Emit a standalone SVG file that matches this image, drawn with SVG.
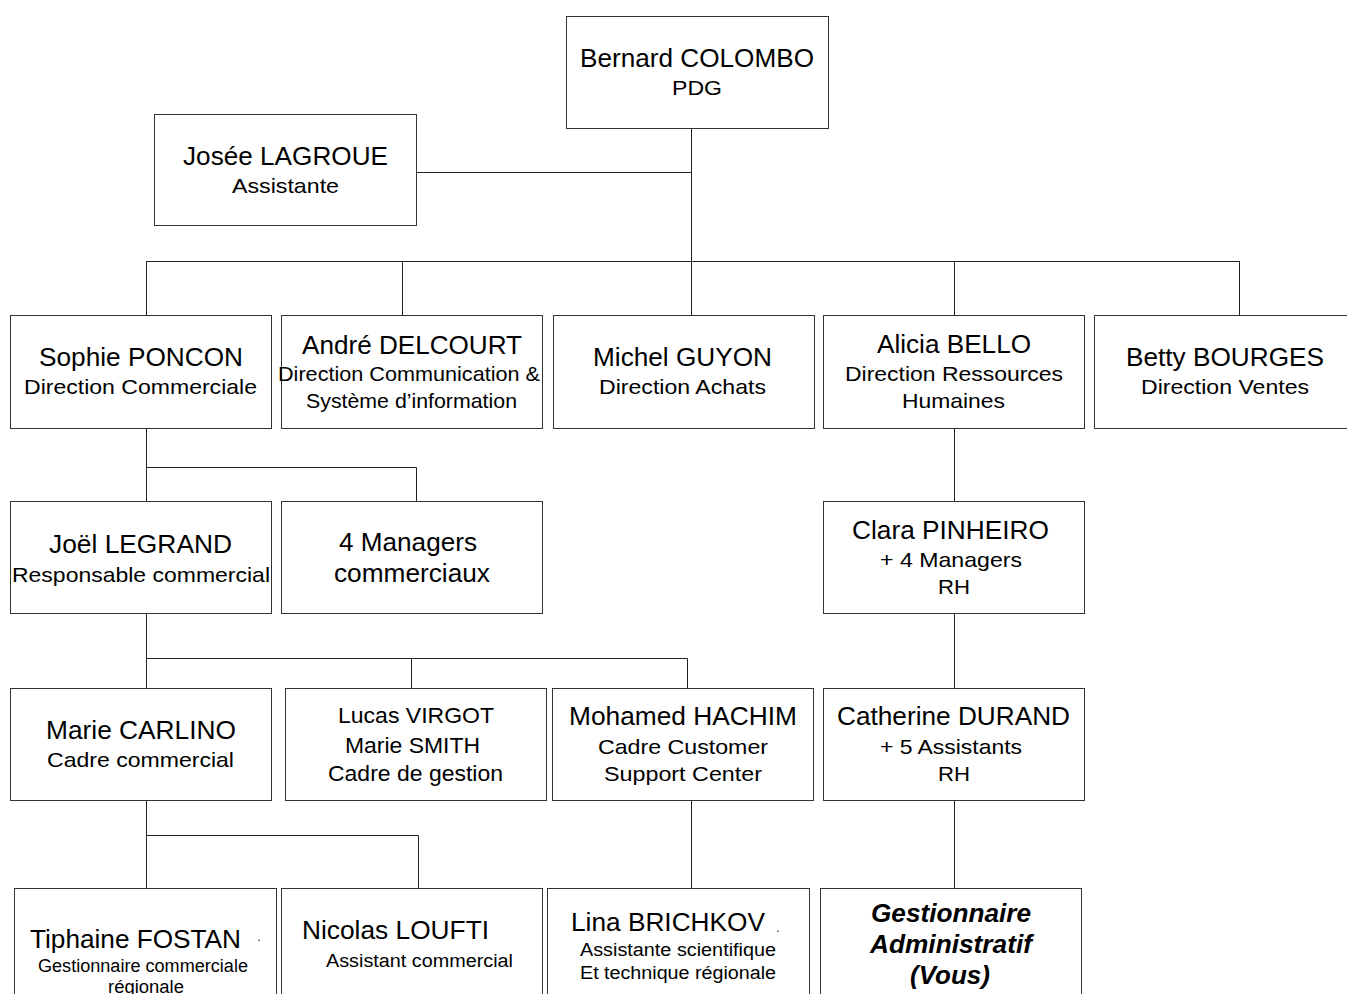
<svg xmlns="http://www.w3.org/2000/svg" width="1347" height="994" viewBox="0 0 1347 994">
<style>
.box{fill:#fff;stroke:#333;stroke-width:1}
.ln{fill:none;stroke:#222;stroke-width:1}
text{font-family:"Liberation Sans",Arial,sans-serif;fill:#000;text-anchor:middle}
.n{font-size:25px}
.t{font-size:21px}
.s{font-size:18px}
.bi{font-size:25px;font-weight:bold;font-style:italic}
</style>
<rect width="1347" height="994" fill="#fff"/>
<g id="connectors">
<path class="ln" d="M416.5 172.5H691.5M691.5 128V261.5M146.5 261.5H1239.5M146.5 261V315M402.5 261V315M691.5 261V315M954.5 261V315M1239.5 261V315"/>
<path class="ln" d="M146.5 428V501M146.5 467.5H416.5V501"/>
<path class="ln" d="M954.5 428V501M954.5 613V688"/>
<path class="ln" d="M146.5 613V688M146.5 658.5H687.5V688M411.5 658V688"/>
<path class="ln" d="M146.5 800V888M146.5 835.5H418.5V888M691.5 800V888M954.5 800V888"/>
</g>
<g id="n_colombo"><rect class="box" x="566.5" y="16.5" width="262" height="112"/><text class="n" x="697" y="67" textLength="234" lengthAdjust="spacingAndGlyphs">Bernard COLOMBO</text><text class="t" x="697" y="95" textLength="50" lengthAdjust="spacingAndGlyphs">PDG</text></g>
<g id="n_lagroue"><rect class="box" x="154.5" y="114.5" width="262" height="111"/><text class="n" x="285.5" y="165" textLength="205" lengthAdjust="spacingAndGlyphs">Josée LAGROUE</text><text class="t" x="285.5" y="193" textLength="107" lengthAdjust="spacingAndGlyphs">Assistante</text></g>
<g id="n_poncon"><rect class="box" x="10.5" y="315.5" width="261" height="113"/><text class="n" x="141" y="366" textLength="204" lengthAdjust="spacingAndGlyphs">Sophie PONCON</text><text class="t" x="140.5" y="394" textLength="233" lengthAdjust="spacingAndGlyphs">Direction Commerciale</text></g>
<g id="n_delcourt"><rect class="box" x="281.5" y="315.5" width="261" height="113"/><text class="n" x="412" y="354" textLength="220" lengthAdjust="spacingAndGlyphs">André DELCOURT</text><text class="t" x="409" y="381" textLength="262" lengthAdjust="spacingAndGlyphs">Direction Communication &amp;</text><text class="t" x="411.5" y="408" textLength="211" lengthAdjust="spacingAndGlyphs">Système d’information</text></g>
<g id="n_guyon"><rect class="box" x="553.5" y="315.5" width="261" height="113"/><text class="n" x="682.5" y="366" textLength="179" lengthAdjust="spacingAndGlyphs">Michel GUYON</text><text class="t" x="682.5" y="394" textLength="167" lengthAdjust="spacingAndGlyphs">Direction Achats</text></g>
<g id="n_bello"><rect class="box" x="823.5" y="315.5" width="261" height="113"/><text class="n" x="954" y="353" textLength="154" lengthAdjust="spacingAndGlyphs">Alicia BELLO</text><text class="t" x="954" y="381" textLength="218" lengthAdjust="spacingAndGlyphs">Direction Ressources</text><text class="t" x="953.5" y="408" textLength="103" lengthAdjust="spacingAndGlyphs">Humaines</text></g>
<g id="n_bourges"><rect class="box" x="1094.5" y="315.5" width="262" height="113"/><text class="n" x="1225" y="366" textLength="198" lengthAdjust="spacingAndGlyphs">Betty BOURGES</text><text class="t" x="1225" y="394" textLength="168" lengthAdjust="spacingAndGlyphs">Direction Ventes</text></g>
<g id="n_legrand"><rect class="box" x="10.5" y="501.5" width="261" height="112"/><text class="n" x="140.5" y="553" textLength="183" lengthAdjust="spacingAndGlyphs">Joël LEGRAND</text><text class="t" x="141" y="582" textLength="258" lengthAdjust="spacingAndGlyphs">Responsable commercial</text></g>
<g id="n_managers"><rect class="box" x="281.5" y="501.5" width="261" height="112"/><text class="n" x="408" y="551" textLength="138" lengthAdjust="spacingAndGlyphs">4 Managers</text><text class="n" x="412" y="582" textLength="156" lengthAdjust="spacingAndGlyphs">commerciaux</text></g>
<g id="n_pinheiro"><rect class="box" x="823.5" y="501.5" width="261" height="112"/><text class="n" x="950.5" y="539" textLength="197" lengthAdjust="spacingAndGlyphs">Clara PINHEIRO</text><text class="t" x="951" y="567" textLength="142" lengthAdjust="spacingAndGlyphs">+ 4 Managers</text><text class="t" x="954" y="594" textLength="32" lengthAdjust="spacingAndGlyphs">RH</text></g>
<g id="n_carlino"><rect class="box" x="10.5" y="688.5" width="261" height="112"/><text class="n" x="141" y="739" textLength="190" lengthAdjust="spacingAndGlyphs">Marie CARLINO</text><text class="t" x="140.5" y="767" textLength="187" lengthAdjust="spacingAndGlyphs">Cadre commercial</text></g>
<g id="n_virgot"><rect class="box" x="285.5" y="688.5" width="261" height="112"/><text class="t" x="416" y="723" style="font-size:22px" textLength="156" lengthAdjust="spacingAndGlyphs">Lucas VIRGOT</text><text class="t" x="412.5" y="753" style="font-size:22px" textLength="135" lengthAdjust="spacingAndGlyphs">Marie SMITH</text><text class="t" x="415.5" y="781" style="font-size:22px" textLength="175" lengthAdjust="spacingAndGlyphs">Cadre de gestion</text></g>
<g id="n_hachim"><rect class="box" x="552.5" y="688.5" width="261" height="112"/><text class="n" x="683" y="725" textLength="228" lengthAdjust="spacingAndGlyphs">Mohamed HACHIM</text><text class="t" x="683" y="754" textLength="170" lengthAdjust="spacingAndGlyphs">Cadre Customer</text><text class="t" x="683" y="781" textLength="158" lengthAdjust="spacingAndGlyphs">Support Center</text></g>
<g id="n_durand"><rect class="box" x="823.5" y="688.5" width="261" height="112"/><text class="n" x="953.5" y="725" textLength="233" lengthAdjust="spacingAndGlyphs">Catherine DURAND</text><text class="t" x="951" y="754" textLength="142" lengthAdjust="spacingAndGlyphs">+ 5 Assistants</text><text class="t" x="954" y="781" textLength="32" lengthAdjust="spacingAndGlyphs">RH</text></g>
<g id="n_fostan"><rect class="box" x="14.5" y="888.5" width="262" height="120"/><text class="n" x="135.5" y="948" textLength="211" lengthAdjust="spacingAndGlyphs">Tiphaine FOSTAN</text><text x="259" y="941" style="font-size:12px">.</text><text class="s" x="143" y="972" textLength="210" lengthAdjust="spacingAndGlyphs">Gestionnaire commerciale</text><text class="s" x="146" y="993" textLength="76" lengthAdjust="spacingAndGlyphs">régionale</text></g>
<g id="n_loufti"><rect class="box" x="281.5" y="888.5" width="261" height="120"/><text class="n" x="395.5" y="939" textLength="187" lengthAdjust="spacingAndGlyphs">Nicolas LOUFTI</text><text class="s" x="419.5" y="967" textLength="187" lengthAdjust="spacingAndGlyphs">Assistant commercial</text></g>
<g id="n_brichkov"><rect class="box" x="547.5" y="888.5" width="262" height="120"/><text class="n" x="668" y="931" textLength="194" lengthAdjust="spacingAndGlyphs">Lina BRICHKOV</text><text x="778" y="932" style="font-size:12px">.</text><text class="s" x="678" y="956" textLength="196" lengthAdjust="spacingAndGlyphs">Assistante scientifique</text><text class="s" x="678" y="979" textLength="196" lengthAdjust="spacingAndGlyphs">Et technique régionale</text></g>
<g id="n_vous"><rect class="box" x="820.5" y="888.5" width="261" height="120"/><text class="bi" x="951" y="922" textLength="160" lengthAdjust="spacingAndGlyphs">Gestionnaire</text><text class="bi" x="951" y="953" textLength="162" lengthAdjust="spacingAndGlyphs">Administratif</text><text class="bi" x="950" y="984" textLength="80" lengthAdjust="spacingAndGlyphs">(Vous)</text></g>
</svg>
